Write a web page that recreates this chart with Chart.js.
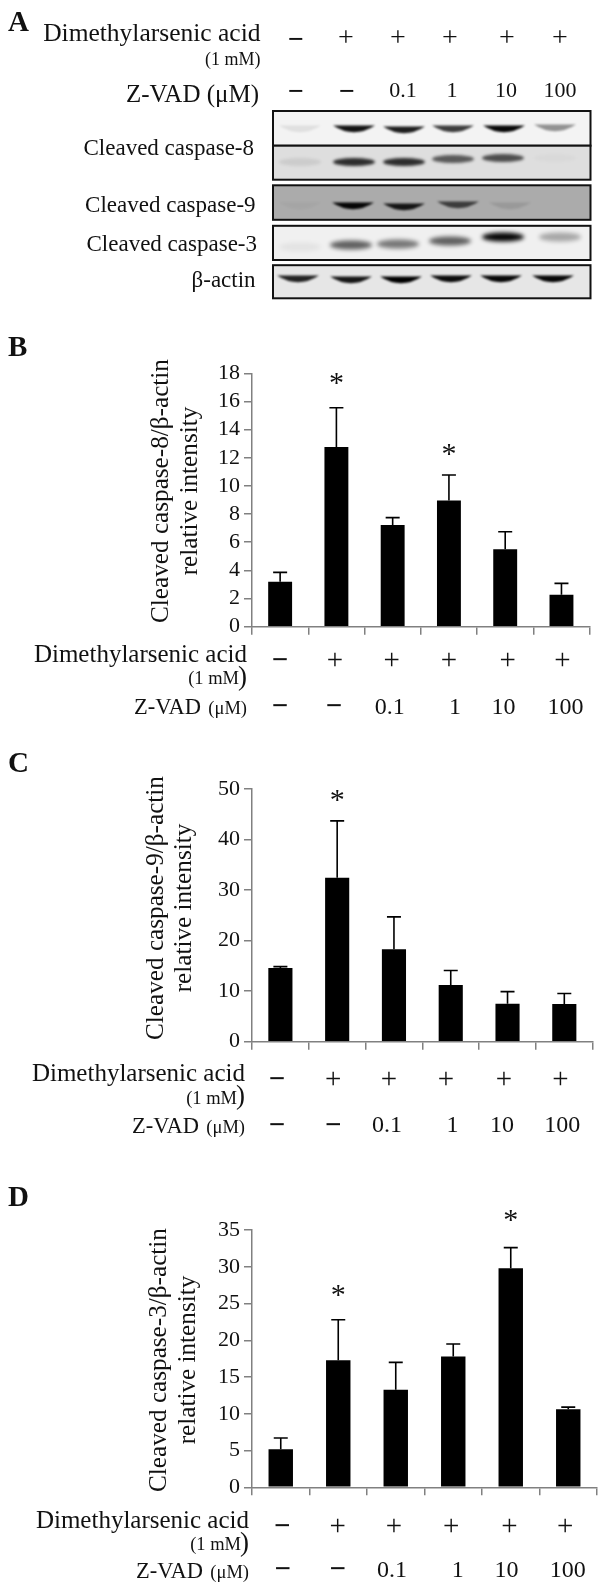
<!DOCTYPE html>
<html>
<head>
<meta charset="utf-8">
<script src="https://cdn.jsdelivr.net/npm/chart.js@4"></script>
<style>
  html, body { margin: 0; padding: 0; background: #fff; }
  #page { position: relative; width: 602px; height: 1593px; overflow: hidden; }
  canvas { position: absolute; left: 0; }
</style>
</head>
<body>
<div id="page">
  <canvas id="blot" width="602" height="320" style="top:0"></canvas>
  <div style="position:absolute;left:0;top:320px;width:602px;height:470px"><canvas id="chartB"></canvas></div>
  <div style="position:absolute;left:0;top:740px;width:602px;height:470px"><canvas id="chartC"></canvas></div>
  <div style="position:absolute;left:0;top:1170px;width:602px;height:423px"><canvas id="chartD"></canvas></div>
</div>
<script>
// --- data ---
const categories = ['ctrl', 'DMA', 'DMA+0.1', 'DMA+1', 'DMA+10', 'DMA+100'];
const dmaRow = ['−', '+', '+', '+', '+', '+'];
const zvadRow = ['−', '−', '0.1', '1', '10', '100'];

const casp8Values = [3.2, 12.77, 7.23, 8.96, 5.5, 2.27];
const casp8Upper = [3.86, 15.55, 7.75, 10.78, 6.75, 3.08];
const casp8Ticks = [0, 2, 4, 6, 8, 10, 12, 14, 16, 18];
const casp8Stars = [null, 17.5, null, 12.44, null, null];

const casp9Values = [14.6, 32.45, 18.3, 11.2, 7.5, 7.45];
const casp9Upper = [14.85, 43.7, 24.7, 14.1, 9.9, 9.55];
const casp9Ticks = [0, 10, 20, 30, 40, 50];
const casp9Stars = [null, 48.3, null, null, null, null];

const casp3Values = [5.17, 17.27, 13.28, 17.8, 29.8, 10.6];
const casp3Upper = [6.7, 22.8, 17.0, 19.5, 32.6, 10.9];
const casp3Ticks = [0, 5, 10, 15, 20, 25, 30, 35];
const casp3Stars = [null, 26.6, null, null, 36.8, null];

// blot band darkness per lane
const bandsCasp8a = [0.08, 0.92, 0.88, 0.75, 0.97, 0.4];
const bandsCasp8b = [0.08, 0.8, 0.8, 0.6, 0.65, 0.02];
const bandsCasp9 = [0.03, 0.97, 0.88, 0.65, 0.1, 0];
const bandsCasp3 = [0.05, 0.6, 0.5, 0.6, 0.98, 0.3];
const bandsActin = [0.85, 0.9, 1, 0.95, 0.97, 0.97];

const SERIF = '"Liberation Serif", "Times New Roman", serif';

function text(ctx, str, x, y, size, align, bold) {
    ctx.font = (bold ? 'bold ' : '') + size + 'px ' + SERIF;
    ctx.textAlign = align || 'left';
    ctx.textBaseline = 'alphabetic';
    ctx.fillStyle = '#111';
    ctx.fillText(str, x, y);
}

// --- panel A ---
function drawBlot() {
    const ctx = document.getElementById('blot').getContext('2d');
    text(ctx, 'A', 8, 30.7, 29, 'left', true);
    text(ctx, 'Dimethylarsenic acid', 260.5, 40.7, 25.5, 'right');
    text(ctx, '(1 mM)', 260.5, 65, 18, 'right');
    text(ctx, 'Z-VAD (μM)', 259, 101.7, 25, 'right');

    const signX = [296, 346, 398, 450, 507, 560];
    dmaRow.forEach((s, i) => {
        if (s === '−') text(ctx, s, signX[i], 47.5, 28, 'center', true);
        else text(ctx, s, signX[i], 46, 28, 'center');
    });
    const zvadX = [296, 347, 403, 452, 506, 560];
    zvadRow.forEach((s, i) => {
        if (s === '−') text(ctx, s, zvadX[i], 99.5, 28, 'center', true);
        else text(ctx, s, zvadX[i], 96.7, 22, 'center');
    });

    text(ctx, 'Cleaved caspase-8', 254, 155, 23, 'right');
    text(ctx, 'Cleaved caspase-9', 255.6, 212, 23, 'right');
    text(ctx, 'Cleaved caspase-3', 257, 250.7, 23, 'right');
    text(ctx, 'β-actin', 255.6, 287.3, 23, 'right');

    const rows = [
        { top: 111, h: 34.7, bg: '#f3f3f3', bands: bandsCasp8a, x: [300, 354, 404, 453, 504, 555], y: [130, 130, 131, 130, 130, 129], bh: 9, blur: 1, smile: true },
        { top: 145.7, h: 34, bg: '#dedede', bands: bandsCasp8b, x: [300, 354, 404, 453, 503, 555], y: [162, 162, 162, 159, 158, 158], bh: 8, blur: 1.6, smile: false },
        { top: 185.3, h: 34.5, bg: '#ababab', bands: bandsCasp9, x: [300, 353, 404, 458, 510, 560], y: [207, 207, 208, 206, 207, 207], bh: 9, blur: 1, smile: true },
        { top: 225.8, h: 34.2, bg: '#f0f0f0', bands: bandsCasp3, x: [300, 351, 398, 450, 503, 560], y: [247, 245, 244, 241, 237, 237], bh: 9, blur: 2, smile: false },
        { top: 265.2, h: 33.1, bg: '#e6e6e6', bands: bandsActin, x: [298, 351, 401, 451, 501, 553], y: [280, 281, 281, 280, 280, 280], bh: 9, blur: 0.8, smile: true }
    ];
    rows.forEach(r => {
        ctx.save();
        ctx.fillStyle = r.bg;
        ctx.fillRect(273, r.top, 317.5, r.h);
        ctx.beginPath();
        ctx.rect(273, r.top, 317.5, r.h);
        ctx.clip();
        ctx.filter = 'blur(' + r.blur + 'px)';
        r.bands.forEach((d, i) => {
            const x = r.x[i], y = r.y[i], h = r.bh, w = 21;
            ctx.fillStyle = 'rgba(0,0,0,' + d + ')';
            ctx.beginPath();
            if (r.smile) {
                ctx.moveTo(x - w, y - h / 2);
                ctx.quadraticCurveTo(x, y - h * 0.5, x + w, y - h / 2);
                ctx.quadraticCurveTo(x, y + h, x - w, y - h / 2);
            } else {
                ctx.ellipse(x, y, w, h / 2, 0, 0, Math.PI * 2);
            }
            ctx.fill();
        });
        ctx.restore();
        ctx.strokeStyle = '#111';
        ctx.lineWidth = 2;
        ctx.strokeRect(273, r.top, 317.5, r.h);
    });
}
drawBlot();

// --- panels B-D ---
// 誤差バー, 有意差マーク, 下の行ラベル
const panelPlugin = {
    id: 'panelPlugin',
    afterDatasetsDraw(chart, args, opts) {
        const ctx = chart.ctx;
        const x = chart.scales.x;
        const y = chart.scales.y;
        ctx.save();
        ctx.strokeStyle = '#000';
        ctx.lineWidth = 1.6;
        opts.upper.forEach((v, i) => {
            const px = x.getPixelForValue(i);
            const top = y.getPixelForValue(v);
            ctx.beginPath();
            ctx.moveTo(px, y.getPixelForValue(opts.values[i]));
            ctx.lineTo(px, top);
            ctx.moveTo(px - 7, top);
            ctx.lineTo(px + 7, top);
            ctx.stroke();
        });
        opts.stars.forEach((v, i) => {
            if (v === null) return;
            ctx.font = '30px ' + SERIF;
            ctx.textAlign = 'center';
            ctx.textBaseline = 'middle';
            ctx.fillStyle = '#111';
            ctx.fillText('*', x.getPixelForValue(i), y.getPixelForValue(v) + 4);
        });
        text(ctx, opts.letter, 8, opts.letterY, 29, 'left', true);

        // rotated axis title
        ctx.save();
        ctx.translate(opts.titleX, opts.titleY);
        ctx.rotate(-Math.PI / 2);
        text(ctx, opts.title, 0, 0, 25.2, 'center');
        text(ctx, 'relative intensity', 0, opts.titleGap, 25.2, 'center');
        ctx.restore();

        const right = opts.labelRight;
        const y0 = y.bottom;
        text(ctx, 'Dimethylarsenic acid', right, y0 + 35 + opts.rowShift, 25, 'right');
        text(ctx, '(1 mM', right - 8, y0 + 57.3 + opts.rowShift, 18.5, 'right');
        text(ctx, ')', right, y0 + 58 + opts.rowShift, 27, 'right');
        text(ctx, 'Z-VAD', right - 46, y0 + 87.7 + opts.zShift, 22.5, 'right');
        text(ctx, '(μM)', right, y0 + 87.7 + opts.zShift, 18.5, 'right');

        dmaRow.forEach((s, i) => {
            const px = x.getPixelForValue(i) + opts.dmaNudge[i];
            if (s === '−') text(ctx, s, px, y0 + 42 + opts.rowShift, 29, 'center', true);
            else text(ctx, s, px, y0 + 42 + opts.rowShift, 29, 'center');
        });
        zvadRow.forEach((s, i) => {
            const px = x.getPixelForValue(i) + opts.zvadNudge[i];
            if (s === '−') text(ctx, s, px, y0 + 88.5 + opts.zShift, 29, 'center', true);
            else text(ctx, s, px, y0 + 87 + opts.zShift, 24, 'center');
        });
        ctx.restore();
    }
};

function makeChart(id, o) {
    return new Chart(document.getElementById(id), {
        type: 'bar',
        data: {
            labels: categories,
            datasets: [{
                data: o.values,
                backgroundColor: '#000',
                barPercentage: 0.85,
                categoryPercentage: 0.5
            }]
        },
        options: {
            responsive: true,
            maintainAspectRatio: false,
            animation: false,
            layout: { padding: { left: 192, right: o.right, top: o.top, bottom: o.bottom } },
            plugins: {
                legend: { display: false },
                tooltip: { enabled: false },
                panelPlugin: o
            },
            scales: {
                x: {
                    offset: true,
                    afterFit(scale) { scale.height = 8; },
                    grid: { display: true, drawOnChartArea: false, drawTicks: true, tickLength: 8, color: '#808080', lineWidth: 1.5, offset: true },
                    border: { color: '#808080', width: 1.5 },
                    ticks: { display: false }
                },
                y: {
                    afterFit(scale) { scale.width = 60; },
                    min: 0,
                    max: o.ticks[o.ticks.length - 1],
                    afterBuildTicks(scale) { scale.ticks = o.ticks.map(v => ({ value: v })); },
                    grid: { display: true, drawOnChartArea: false, drawTicks: true, tickLength: 8, color: '#808080', lineWidth: 1.5 },
                    border: { color: '#808080', width: 1.5 },
                    ticks: { color: '#111', padding: 4, autoSkip: false, font: { family: SERIF, size: 22 } }
                }
            }
        },
        plugins: [panelPlugin]
    });
}

makeChart('chartB', {
    values: casp8Values, upper: casp8Upper, ticks: casp8Ticks, stars: casp8Stars,
    letter: 'B', letterY: 36, title: 'Cleaved caspase-8/β-actin', titleX: 168, titleY: 171, titleGap: 29,
    labelRight: 247, rowShift: 0, zShift: 0,
    dmaNudge: [0, -1.5, -1, 0, 2.5, 1], zvadNudge: [0, -2.5, -3, 6, -1.6, 4],
    top: 53.3, bottom: 155.3, right: 12.4
});
makeChart('chartC', {
    values: casp9Values, upper: casp9Upper, ticks: casp9Ticks, stars: casp9Stars,
    letter: 'C', letterY: 32, title: 'Cleaved caspase-9/β-actin', titleX: 162.5, titleY: 168, titleGap: 28.5,
    labelRight: 245, rowShift: 4.5, zShift: 3.5,
    dmaNudge: [-3.4, -4, -5, -4.8, -3.6, -3.8], zvadNudge: [-3.4, -4, -7, 1.7, -5.6, -2],
    top: 49, bottom: 160.3, right: 9.3
});
makeChart('chartD', {
    values: casp3Values, upper: casp3Upper, ticks: casp3Ticks, stars: casp3Stars,
    letter: 'D', letterY: 36, title: 'Cleaved caspase-3/β-actin', titleX: 166, titleY: 190, titleGap: 29,
    labelRight: 249, rowShift: 5.5, zShift: 2.5,
    dmaNudge: [1.5, -0.5, -1.7, -2, -1.2, -3], zvadNudge: [2, -0.5, -3.7, 4.5, -4.3, -0.5],
    top: 60, bottom: 97.7, right: 5
});
</script>
</body>
</html>
